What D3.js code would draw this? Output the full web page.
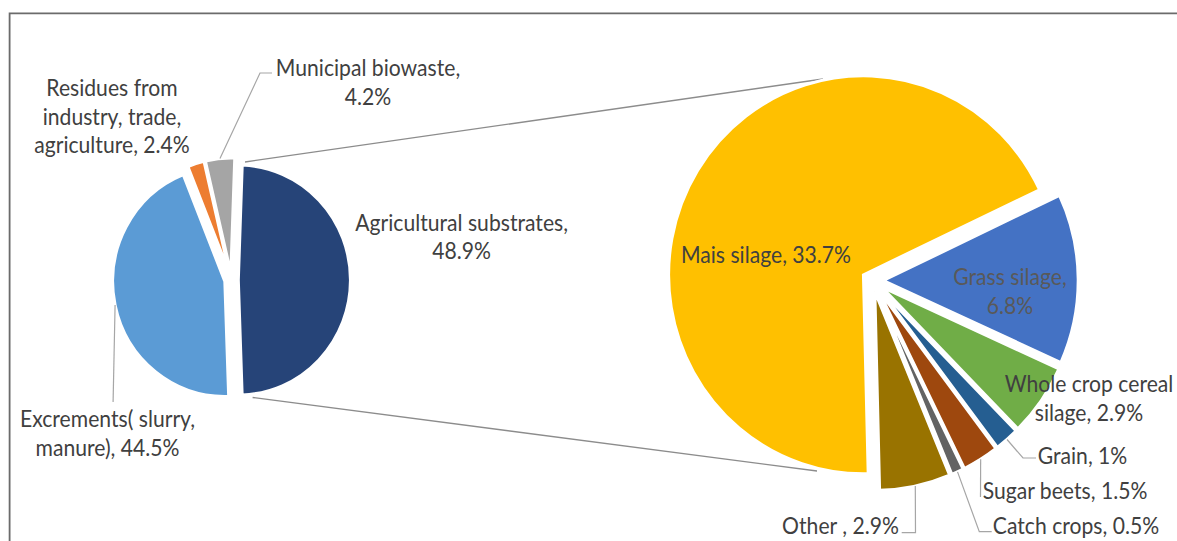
<!DOCTYPE html>
<html>
<head>
<meta charset="utf-8">
<script src="https://cdn.jsdelivr.net/npm/d3@7"></script>
<style>
  html, body { margin: 0; padding: 0; background: #ffffff; }
  svg { display: block; }
  text { font-family: "Lato", "Open Sans", sans-serif; fill: #404040; }
</style>
</head>
<body>
<svg id="chart" width="1177" height="541"></svg>
<script>
// Biogas substrate mix: overall shares (left pie) and the breakdown of agricultural substrates (right pie)
const mainCategories = ["Agricultural substrates", "Excrements( slurry, manure)", "Residues from industry, trade, agriculture", "Municipal biowaste"];
const mainValues = [48.9, 44.5, 2.4, 4.2];
const mainColors = ["#264478", "#5b9bd5", "#ed7d31", "#a5a5a5"];

const agriCategories = ["Mais silage", "Grass silage", "Whole crop cereal silage", "Grain", "Sugar beets", "Catch crops", "Other "];
const agriValues = [33.7, 6.8, 2.9, 1, 1.5, 0.5, 2.9];
const agriColors = ["#ffc000", "#4472c4", "#70ad47", "#255e91", "#9e480e", "#636363", "#997300"];

const svg = d3.select("#chart");
const deg = Math.PI / 180;

// frame of the chart area
svg.append("path")
  .attr("d", "M9.6,541 V13.3 H1177")
  .attr("fill", "none")
  .attr("stroke", "#6b6b6b")
  .attr("stroke-width", 1.8);

// pie layout settings
const pies = {
  main:  { cx: 231.5, cy: 280,   r: 115, sx: 0.975, explode: 7,  start: 2 * deg },
  agri:  { cx: 872.6, cy: 280.6, r: 199, sx: 0.979, explode: 11, start: 178.6 * deg }
};

function slices(values, cfg) {
  return d3.pie().sort(null).value(d => d)
    .startAngle(cfg.start).endAngle(cfg.start + 2 * Math.PI)(values);
}

function drawPie(values, colors, cfg) {
  const arc = d3.arc().innerRadius(0).outerRadius(cfg.r);
  const g = svg.append("g")
    .attr("transform", `translate(${cfg.cx},${cfg.cy}) scale(${cfg.sx},1)`);
  const data = slices(values, cfg);
  g.selectAll("path").data(data).join("path")
    .attr("transform", d => {
      const m = (d.startAngle + d.endAngle) / 2;
      return `translate(${cfg.explode * Math.sin(m)},${-cfg.explode * Math.cos(m)})`;
    })
    .attr("d", arc)
    .attr("fill", (d, i) => colors[i])
    .attr("stroke", "#ffffff")
    .attr("stroke-width", 3)
    .attr("vector-effect", "non-scaling-stroke")
    .attr("stroke-linejoin", "miter");
  return data;
}

// point on the outer edge of an exploded slice, at its middle angle
function edgePoint(d, cfg) {
  const m = (d.startAngle + d.endAngle) / 2;
  const rr = cfg.r + cfg.explode;
  return [cfg.cx + cfg.sx * rr * Math.sin(m), cfg.cy - rr * Math.cos(m)];
}

// connector lines between the two pies (drawn first so the slices sit on top)
const connectors = svg.append("g")
  .attr("stroke", "#8c8c8c").attr("stroke-width", 1.3).attr("fill", "none");
connectors.append("line").attr("x1", 245).attr("y1", 162).attr("x2", 823).attr("y2", 79);
connectors.append("line").attr("x1", 252.6).attr("y1", 397.5).attr("x2", 817).attr("y2", 471);

const mainSlices = drawPie(mainValues, mainColors, pies.main);
const agriSlices = drawPie(agriValues, agriColors, pies.agri);

// label text "<name>, <value>%", broken into lines after the given word counts
function labelLines(name, value, breaks) {
  const words = `${name}, ${value}%`.split(" ");
  const lines = [];
  let from = 0;
  for (const b of breaks.concat([words.length])) {
    lines.push(words.slice(from, b).join(" "));
    from = b;
  }
  return lines;
}

const lineGap = 28.6;
const fontSize = 23;
const textStretch = 0.92;   // slightly condensed lettering

function drawLabel(name, value, lay) {
  const lines = labelLines(name, value, lay.breaks || []);
  const t = svg.append("text")
    .attr("text-anchor", "middle")
    .attr("font-size", fontSize)
    .attr("transform", `translate(${lay.x},${lay.y}) scale(${textStretch},1)`)
    .style("fill", lay.color || "#404040");
  lines.forEach((ln, i) => {
    t.append("tspan")
      .attr("x", 0)
      .attr("y", i * lineGap)
      .attr("dy", "0.35em")
      .text(ln);
  });
}

// leader line from a slice edge through the given bend points
function drawLeader(d, cfg, bends) {
  const pts = [edgePoint(d, cfg)].concat(bends);
  svg.append("path")
    .attr("d", d3.line()(pts))
    .attr("fill", "none")
    .attr("stroke", "#a6a6a6")
    .attr("stroke-width", 1.2);
}

// label placement for the overall pie
const mainLabelLayout = [
  { x: 461.6, y: 222.6, breaks: [2] },
  { x: 107.5, y: 419,   breaks: [2] },
  { x: 112,   y: 88,    breaks: [2, 4] },
  { x: 368,   y: 68,    breaks: [2] }
];
mainCategories.forEach((c, i) => drawLabel(c, mainValues[i], mainLabelLayout[i]));
drawLeader(mainSlices[1], pies.main, [[edgePoint(mainSlices[1], pies.main)[0] - 2, 402]]);
drawLeader(mainSlices[3], pies.main, [[260, 73], [272, 73]]);

// label placement for the agricultural breakdown
const agriLabelLayout = [
  { x: 766,    y: 255 },
  { x: 1010,   y: 277,   breaks: [2], color: "#595959" },
  { x: 1089,   y: 384,   breaks: [3] },
  { x: 1082.5, y: 456 },
  { x: 1065,   y: 490.7 },
  { x: 1076,   y: 525.7 },
  { x: 840.5,  y: 525.7 }
];
agriCategories.forEach((c, i) => drawLabel(c, agriValues[i], agriLabelLayout[i]));
drawLeader(agriSlices[3], pies.agri, [[1023, 458], [1036, 458]]);
drawLeader(agriSlices[4], pies.agri, [[980.5, 497]]);
drawLeader(agriSlices[5], pies.agri, [[979.3, 531.7], [991.7, 531.7]]);
drawLeader(agriSlices[6], pies.agri, [[915.5, 532.7], [901.7, 532.7]]);
</script>
</body>
</html>
